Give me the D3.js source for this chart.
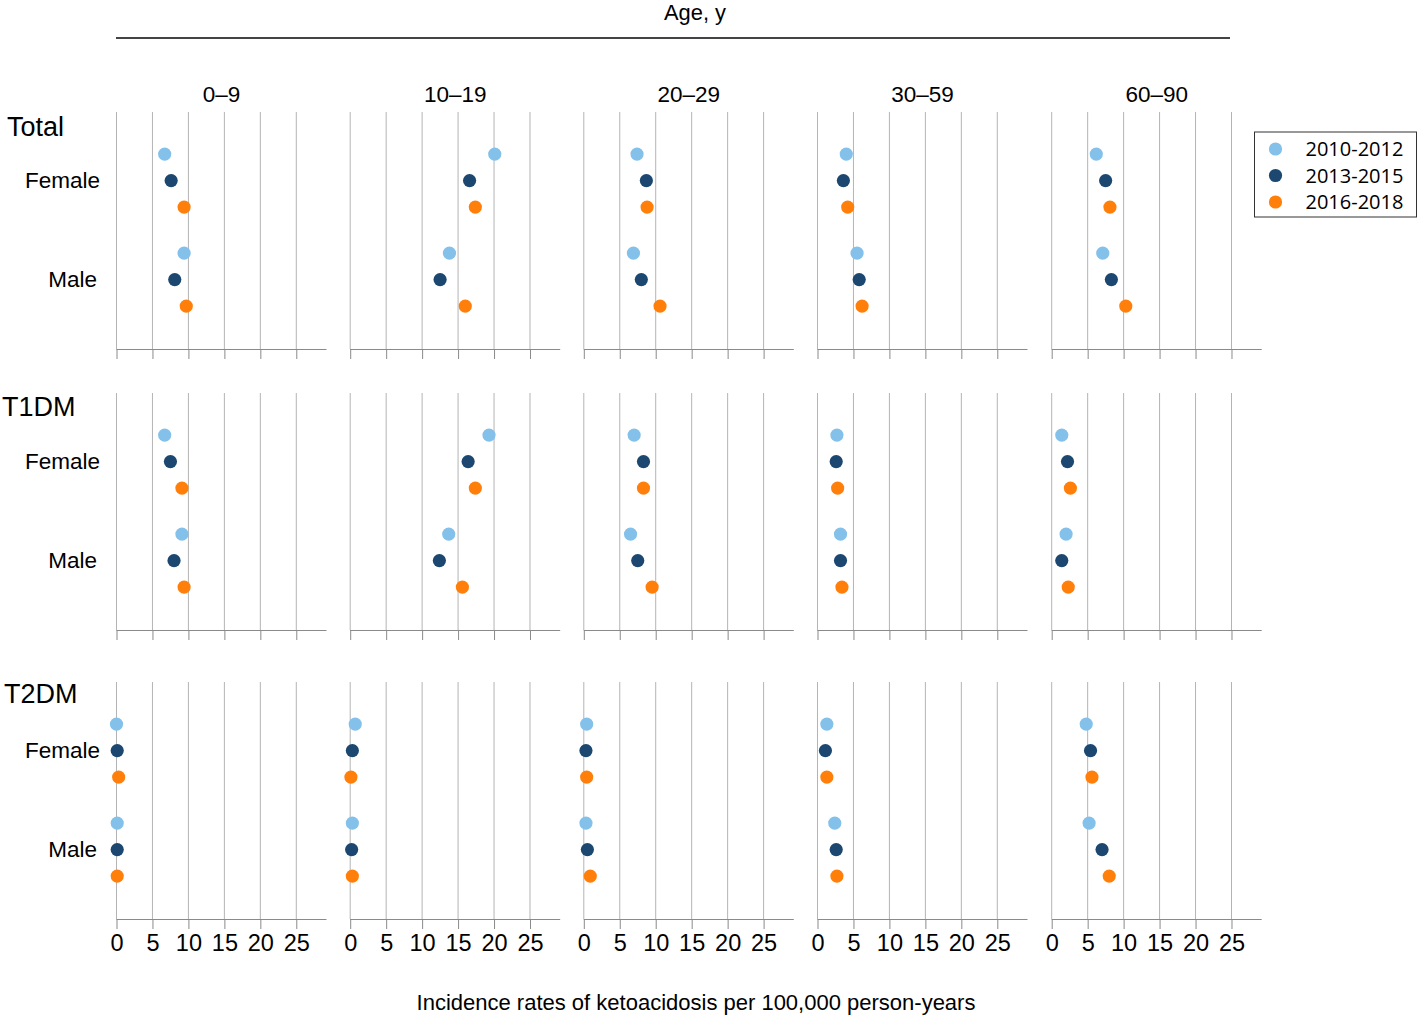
<!DOCTYPE html>
<html lang="en">
<head>
  <meta charset="UTF-8">
  <title>Ketoacidosis incidence by age, sex and period</title>
  <script src="https://d3js.org/d3.v7.min.js"></script>
  <style>
    body {
      margin: 0;
      background: #fff;
      font-family: "Liberation Sans", Arial, sans-serif;
    }
    svg text {
      fill: #000;
    }
  </style>
</head>
<body>
<svg width="1417" height="1018"></svg>

<script>
const periods = ["2010-2012", "2013-2015", "2016-2018"];
const periodColors = ["#83c0ea", "#1b4770", "#ff7f0a"];
const ageGroups = ["0\u20139", "10\u201319", "20\u201329", "30\u201359", "60\u201390"];
const diseases = ["Total", "T1DM", "T2DM"];
const sexes = ["Female", "Male"];
const xTicks = [0, 5, 10, 15, 20, 25];

// one entry per age group, three periods each
const totalFemale = [[6.7, 7.6, 9.4], [20.1, 16.6, 17.4], [7.4, 8.7, 8.8], [4.0, 3.6, 4.2], [6.2, 7.5, 8.1]];
const totalMale   = [[9.4, 8.1, 9.7], [13.8, 12.5, 16.0], [6.9, 8.0, 10.6], [5.5, 5.8, 6.2], [7.1, 8.3, 10.3]];
const t1dmFemale  = [[6.7, 7.5, 9.1], [19.3, 16.4, 17.4], [7.0, 8.3, 8.3], [2.7, 2.6, 2.8], [1.4, 2.2, 2.6]];
const t1dmMale    = [[9.1, 8.0, 9.4], [13.7, 12.4, 15.6], [6.5, 7.5, 9.5], [3.2, 3.2, 3.4], [2.0, 1.4, 2.3]];
const t2dmFemale  = [[0.0, 0.1, 0.3], [0.7, 0.3, 0.1], [0.4, 0.3, 0.4], [1.3, 1.1, 1.3], [4.8, 5.4, 5.6]];
const t2dmMale    = [[0.1, 0.1, 0.1], [0.3, 0.2, 0.3], [0.3, 0.5, 0.9], [2.4, 2.6, 2.7], [5.2, 7.0, 8.0]];

const rowData = [
  [totalFemale, totalMale],
  [t1dmFemale, t1dmMale],
  [t2dmFemale, t2dmMale]
];

const svg = d3.select("svg");

// layout
const panelLeft = [116.5, 350.2, 583.8, 817.5, 1051.7];
const panelWidth = 210;
const rowTop = [112, 393, 682];
const rowHeight = 237;
const gridColor = "#b4b4b4";
const axisColor = "#8a8a8a";

const x = d3.scaleLinear().domain([0, 29.2]).range([0, panelWidth]);
const ySex = d3.scalePoint().domain(sexes).range([68.6, 167.6]);
const yPeriod = d3.scalePoint().domain(periods).range([-26.5, 26.5]);

// top header
svg.append("text")
  .attr("x", 695).attr("y", 20)
  .attr("text-anchor", "middle")
  .attr("font-size", 22)
  .attr("textLength", 62)
  .attr("lengthAdjust", "spacingAndGlyphs")
  .text("Age, y");

svg.append("line")
  .attr("x1", 116).attr("x2", 1230)
  .attr("y1", 38).attr("y2", 38)
  .attr("stroke", "#444").attr("stroke-width", 2);

ageGroups.forEach((age, j) => {
  svg.append("text")
    .attr("x", panelLeft[j] + x(14.6))
    .attr("y", 102)
    .attr("text-anchor", "middle")
    .attr("font-size", 22.5)
    .text(age);
});

const labelY = [136, 416, 703];
const labelX = [7, 2, 4];
const sexLabelX = [100, 97];

diseases.forEach((dis, i) => {
  const top = rowTop[i];

  svg.append("text")
    .attr("x", labelX[i]).attr("y", labelY[i])
    .attr("font-size", 27)
    .text(dis);

  sexes.forEach((sex, s) => {
    svg.append("text")
      .attr("x", sexLabelX[s])
      .attr("y", top + ySex(sex))
      .attr("dy", "0.35em")
      .attr("text-anchor", "end")
      .attr("font-size", 22.5)
      .text(sex);
  });

  ageGroups.forEach((age, j) => {
    const g = svg.append("g")
      .attr("transform", `translate(${panelLeft[j]},${top})`);

    g.selectAll("line.grid")
      .data(xTicks)
      .enter().append("line")
      .attr("class", "grid")
      .attr("x1", d => x(d)).attr("x2", d => x(d))
      .attr("y1", 0).attr("y2", rowHeight)
      .attr("stroke", gridColor)
      .attr("stroke-width", 1);

    const axis = g.append("g")
      .attr("transform", `translate(0,${rowHeight})`)
      .call(d3.axisBottom(x).tickValues(xTicks).tickSize(10).tickSizeOuter(0).tickPadding(5));
    axis.select(".domain").attr("stroke", axisColor).attr("d", `M0,0.5H${panelWidth}`);
    axis.selectAll(".tick line").attr("stroke", axisColor);
    axis.selectAll(".tick text")
      .attr("font-size", 23.5)
      .attr("font-family", "'Liberation Sans', Arial, sans-serif")
      .attr("fill", "#000")
      .style("display", i === 2 ? null : "none");

    const pts = [];
    sexes.forEach((sex, s) => {
      periods.forEach((p, k) => {
        pts.push({ sex, period: p, k, value: rowData[i][s][j][k] });
      });
    });

    g.selectAll("circle")
      .data(pts)
      .enter().append("circle")
      .attr("cx", d => x(d.value))
      .attr("cy", d => ySex(d.sex) + yPeriod(d.period))
      .attr("r", 6.6)
      .attr("fill", d => periodColors[d.k]);
  });
});

// legend
const legend = svg.append("g").attr("transform", "translate(1254.5,132)");
legend.append("rect")
  .attr("width", 162).attr("height", 85)
  .attr("fill", "#fff")
  .attr("stroke", "#333").attr("stroke-width", 1);

const legendItems = legend.selectAll("g.item")
  .data(periods)
  .enter().append("g")
  .attr("class", "item")
  .attr("transform", (d, k) => `translate(0,${17 + k * 26.5})`);

legendItems.append("circle")
  .attr("cx", 21).attr("cy", 0).attr("r", 6.6)
  .attr("fill", (d, k) => periodColors[k]);

legendItems.append("text")
  .attr("x", 51).attr("y", 0).attr("dy", "0.35em")
  .attr("font-size", 20)
  .attr("font-family", "'Open Sans', 'Liberation Sans', sans-serif")
  .text(d => d);

// x title
svg.append("text")
  .attr("x", 696).attr("y", 1010)
  .attr("text-anchor", "middle")
  .attr("font-size", 22)
  .text("Incidence rates of ketoacidosis per 100,000 person-years");
</script>
</body>
</html>
